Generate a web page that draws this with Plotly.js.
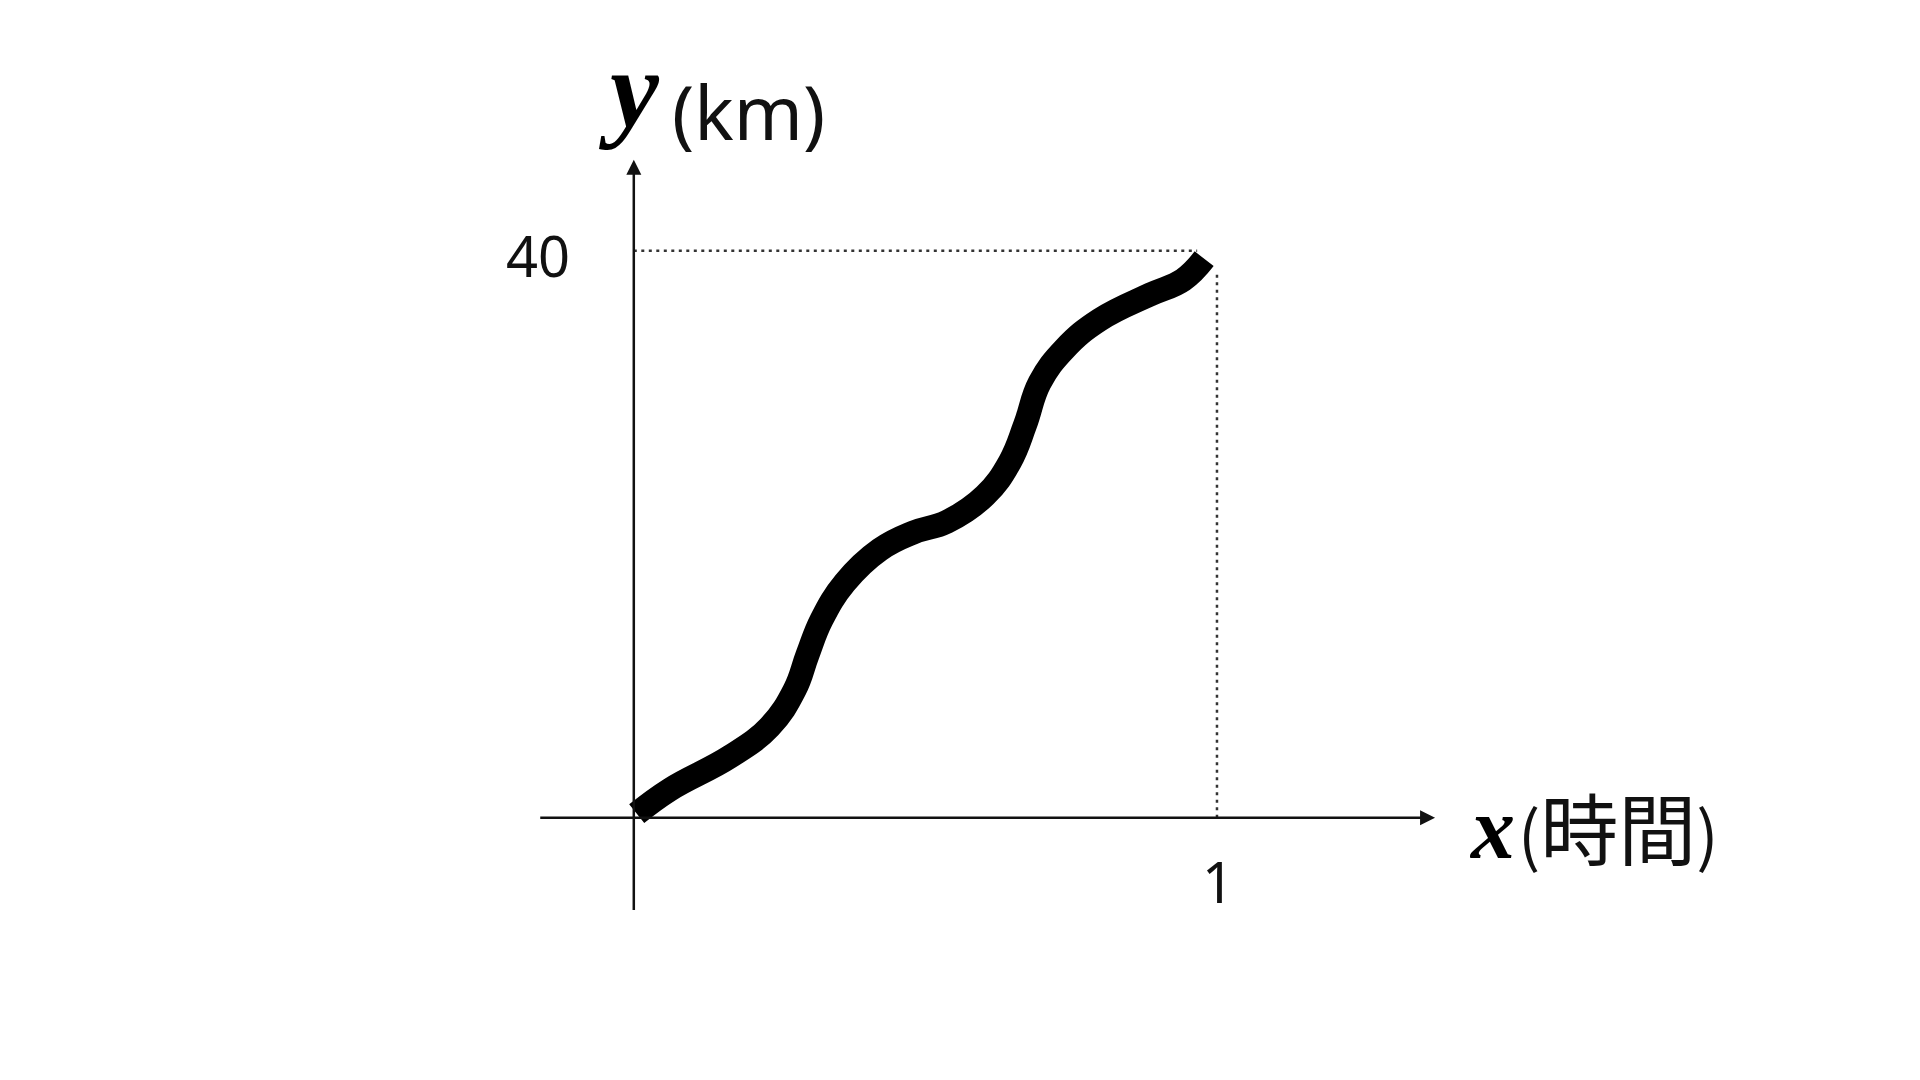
<!DOCTYPE html>
<html>
<head>
<meta charset="utf-8">
<script src="https://cdn.plot.ly/plotly-3.0.1.min.js"></script>
<style>html,body{margin:0;padding:0;background:#fff;}#chart{width:1920px;height:1080px;}</style>
</head>
<body>
<div id="chart"></div>
<script>
// Curve values (x: hours, y: km)
const curveX = [0.005, 0.062, 0.165, 0.233, 0.276, 0.298, 0.322, 0.362, 0.422, 0.479, 0.537, 0.602, 0.645, 0.671, 0.696, 0.739, 0.799, 0.885, 0.942, 0.978];
const curveY = [0.28, 1.98, 4.30, 6.42, 9.03, 11.5, 13.97, 16.58, 18.91, 20.11, 20.88, 22.72, 25.11, 27.72, 30.69, 33.09, 35.13, 36.90, 37.95, 39.44];
// Guide lines
const guideHX = [0, 0.966];
const guideHY = [40, 40];
const guideVX = [1, 1];
const guideVY = [0, 38.4];
// Tick labels
const tickXText = "1";
const tickYText = "40";
const xLabelVar = "x";
const xLabelUnit = "時間";
const yLabelVar = "y";
const yLabelUnit = "(km)";

const dotted = {color: '#333', width: 2.5, dash: '3px,4.5px'};
const traces = [
  {x: guideHX, y: guideHY, mode: 'lines', line: dotted, hoverinfo: 'skip', showlegend: false},
  {x: guideVX, y: guideVY, mode: 'lines', line: dotted, hoverinfo: 'skip', showlegend: false},
  {x: curveX, y: curveY, mode: 'lines', line: {color: '#000', width: 24, shape: 'spline', smoothing: 1.2}, showlegend: false}
];

const sans = "Noto Sans, Liberation Sans, sans-serif";
const serif = "Liberation Serif, DejaVu Serif, serif";
const annotations = [
  // x axis with arrow
  {x: 1.374, y: 0, ax: -0.163, ay: 0, xref: 'x', yref: 'y', axref: 'x', ayref: 'y', text: '', showarrow: true,
   arrowhead: 2, arrowsize: 1.2, arrowwidth: 2.5, arrowcolor: '#111'},
  // y axis with arrow
  {x: 0, y: 46.42, ax: 0, ay: -6.63, xref: 'x', yref: 'y', axref: 'x', ayref: 'y', text: '', showarrow: true,
   arrowhead: 2, arrowsize: 1.2, arrowwidth: 2.5, arrowcolor: '#111'},
  {x: -0.1647, y: 39.7, xref: 'x', yref: 'y', text: tickYText, showarrow: false, xanchor: 'center', yanchor: 'middle',
   font: {family: sans, size: 56, color: '#111'}},
  {x: 1.0017, y: -4.5, xref: 'x', yref: 'y', text: tickXText, showarrow: false, xanchor: 'center', yanchor: 'middle',
   font: {family: sans, size: 56, color: '#111'}},
  {x: -0.064, y: 51.35, xref: 'x', yref: 'y', text: '<b><i>' + yLabelVar + '</i></b>', showarrow: false, xanchor: 'left', yanchor: 'middle',
   font: {family: serif, size: 110, color: '#000'}},
  {x: 0.062, y: 49.8, xref: 'x', yref: 'y', text: yLabelUnit, showarrow: false, xanchor: 'left', yanchor: 'middle',
   font: {family: sans, size: 74, color: '#111'}},
  {x: 1.428, y: -0.8, xref: 'x', yref: 'y', text: '<b><i>' + xLabelVar + '</i></b>', showarrow: false, xanchor: 'left', yanchor: 'middle',
   font: {family: serif, size: 88, color: '#000'}},
  {x: 1.512, y: -0.6, xref: 'x', yref: 'y', text: '(<span style="font-size:78px">' + xLabelUnit + '</span>)', showarrow: false, xanchor: 'left', yanchor: 'middle',
   font: {family: "Noto Sans CJK JP, Noto Sans, sans-serif", size: 66, color: '#111'}}
];

const layout = {
  width: 1920, height: 1080,
  paper_bgcolor: '#fff', plot_bgcolor: '#fff',
  margin: {l: 488.25, r: 149.15, t: 24.2, b: 148.6, pad: 0},
  xaxis: {range: [-0.25, 1.95], visible: false, fixedrange: true},
  yaxis: {range: [-8, 56], visible: false, fixedrange: true},
  showlegend: false,
  annotations: annotations
};

Plotly.newPlot('chart', traces, layout, {displayModeBar: false, staticPlot: true});
</script>
</body>
</html>
